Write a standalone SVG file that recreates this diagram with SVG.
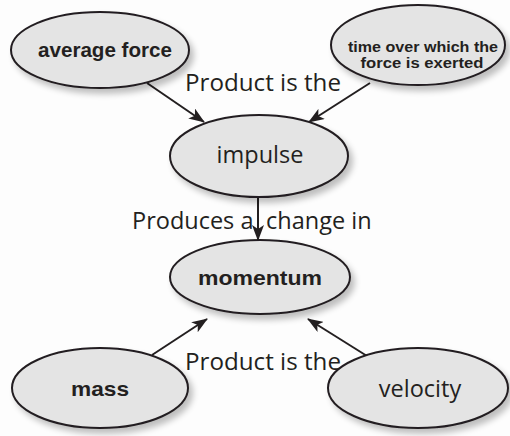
<svg xmlns="http://www.w3.org/2000/svg" width="510" height="436" viewBox="0 0 510 436">
<defs>
<filter id="sh" x="-20%" y="-20%" width="150%" height="160%">
<feGaussianBlur in="SourceAlpha" stdDeviation="3"/>
<feOffset dx="4" dy="5" result="b"/>
<feComponentTransfer><feFuncA type="linear" slope="0.25"/></feComponentTransfer>
<feMerge><feMergeNode/><feMergeNode in="SourceGraphic"/></feMerge>
</filter>
<marker id="ah" viewBox="0 0 16 12" refX="15" refY="6" markerWidth="16" markerHeight="12" markerUnits="userSpaceOnUse" orient="auto">
<path d="M0,0 L16,6 L0,12 L4,6 Z" fill="#231f20"/>
</marker>
</defs>
<style>
.node ellipse{fill:#e4e4e4;stroke:#231f20;stroke-width:2;filter:url(#sh)}
.b{font-family:"Liberation Sans",Arial,sans-serif;font-weight:bold;fill:#231f20;text-anchor:middle}
.r{font-family:"Open Sans","Noto Sans",sans-serif;fill:#231f20;text-anchor:middle}
.lbl{font-family:"Open Sans","Noto Sans",sans-serif;fill:#231f20;font-size:23.5px}
.edge{stroke:#231f20;stroke-width:2;fill:none;marker-end:url(#ah)}
</style>
<rect width="510" height="436" fill="#fdfdfd"/>
<g id="connectors">
<line class="edge" x1="147" y1="83" x2="204" y2="122"/>
<line class="edge" x1="370" y1="83" x2="309" y2="122"/>
<line class="edge" x1="258" y1="198" x2="258" y2="240"/>
<line class="edge" x1="152" y1="355" x2="207" y2="319"/>
<line class="edge" x1="367" y1="356" x2="308" y2="319"/>
</g>
<g id="average-force" class="node">
<ellipse cx="100" cy="50" rx="89" ry="38"/>
<text class="b" x="105" y="57" font-size="20" textLength="134" lengthAdjust="spacingAndGlyphs">average force</text>
</g>
<g id="time" class="node">
<ellipse cx="418" cy="45" rx="87" ry="40"/>
<text class="b" x="423" y="52" font-size="14" textLength="150" lengthAdjust="spacingAndGlyphs">time over which the</text>
<text class="b" x="422" y="68" font-size="14" textLength="123" lengthAdjust="spacingAndGlyphs">force is exerted</text>
</g>
<g id="impulse" class="node">
<ellipse cx="259" cy="156" rx="89" ry="41"/>
<text class="r" x="260" y="163" font-size="23.5">impulse</text>
</g>
<g id="momentum" class="node">
<ellipse cx="260" cy="277" rx="90" ry="37"/>
<text class="b" x="260" y="285" font-size="21" textLength="124" lengthAdjust="spacingAndGlyphs">momentum</text>
</g>
<g id="mass" class="node">
<ellipse cx="100" cy="388" rx="88" ry="40"/>
<text class="b" x="100" y="396" font-size="21" textLength="58" lengthAdjust="spacingAndGlyphs">mass</text>
</g>
<g id="velocity" class="node">
<ellipse cx="418" cy="388" rx="90" ry="40"/>
<text class="r" x="420" y="397" font-size="23.5">velocity</text>
</g>
<g id="labels">
<text class="lbl" x="185" y="91" textLength="156" lengthAdjust="spacingAndGlyphs">Product is the</text>
<text class="lbl" x="132" y="229">Produces a</text>
<text class="lbl" x="266" y="229">change in</text>
<text class="lbl" x="185" y="370" textLength="156" lengthAdjust="spacingAndGlyphs">Product is the</text>
</g>
</svg>
